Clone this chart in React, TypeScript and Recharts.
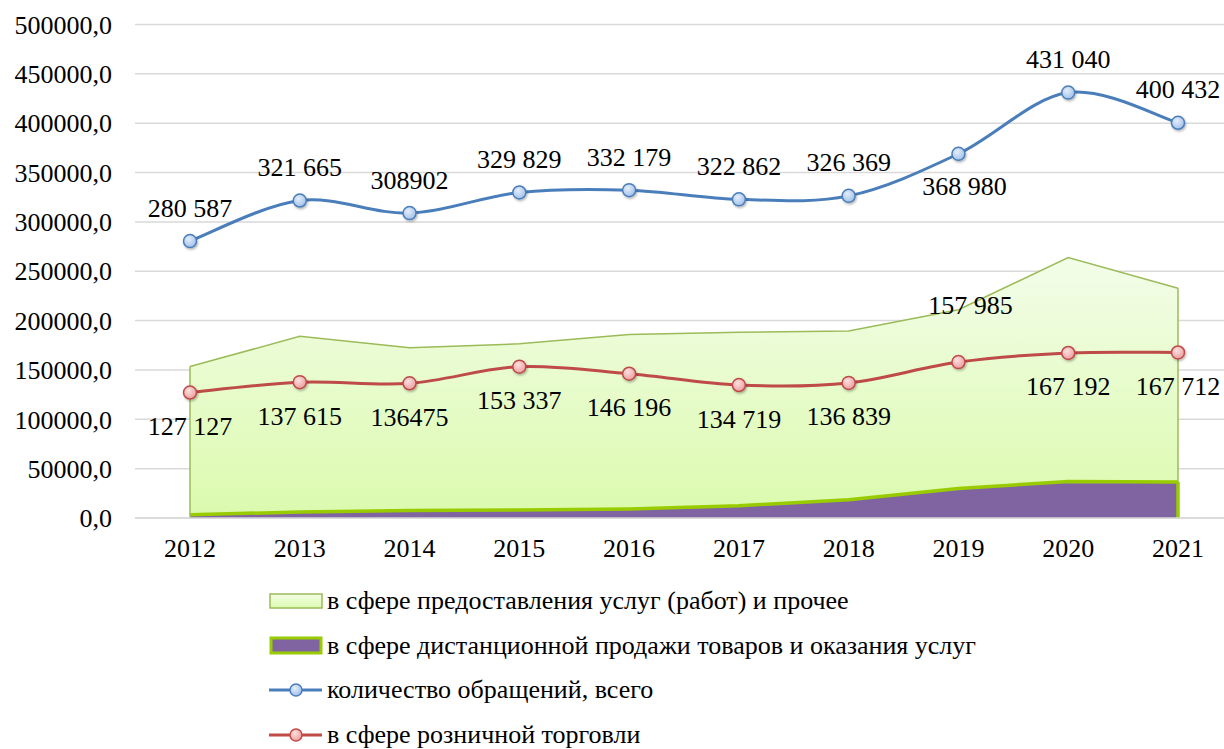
import {
  Area,
  CartesianGrid,
  ComposedChart,
  LabelList,
  Line,
  ReferenceLine,
  XAxis,
  YAxis,
} from "recharts";

const years = ["2012", "2013", "2014", "2015", "2016", "2017", "2018", "2019", "2020", "2021"];
const totalAppeals = [280587, 321665, 308902, 329829, 332179, 322862, 326369, 368980, 431040, 400432];
const retailTrade = [127127, 137615, 136475, 153337, 146196, 134719, 136839, 157985, 167192, 167712];
const servicesOther = [153460, 184050, 172427, 176492, 185983, 188143, 189530, 210995, 263848, 232720];
const distanceSales = [3400, 6000, 7500, 8100, 9100, 12500, 18600, 30000, 37000, 36500];
const totalLabels = ["280 587", "321 665", "308902", "329 829", "332 179", "322 862", "326 369", "368 980", "431 040", "400 432"];
const retailLabels = ["127 127", "137 615", "136475", "153 337", "146 196", "134 719", "136 839", "157 985", "167 192", "167 712"];
const yTicks = [0, 50000, 100000, 150000, 200000, 250000, 300000, 350000, 400000, 450000, 500000];

const legendNames = [
  "в сфере предоставления услуг (работ) и прочее",
  "в сфере дистанционной продажи товаров и оказания услуг",
  "количество обращений, всего",
  "в сфере розничной торговли",
];

const chartData = years.map((year, i) => ({
  year,
  total: totalAppeals[i],
  retail: retailTrade[i],
  services: servicesOther[i],
  distance: distanceSales[i],
}));

const FONT =
  '"Liberation Serif", "Times New Roman", Tinos, "DejaVu Serif", "Noto Serif", FreeSerif, "Nimbus Roman", Times, serif';
const BLUE = "#4a7ebb";
const RED = "#be4b48";

// excel-like smoothing: catmull-rom through every point
function excelSmooth(context: any) {
  let pts: number[][] = [];
  return {
    areaStart() {},
    areaEnd() {},
    lineStart() {
      pts = [];
    },
    point(x: number, y: number) {
      pts.push([+x, +y]);
    },
    lineEnd() {
      const n = pts.length;
      if (!n) return;
      context.moveTo(pts[0][0], pts[0][1]);
      for (let i = 0; i < n - 1; i++) {
        const p0 = pts[i - 1] || pts[i];
        const p1 = pts[i];
        const p2 = pts[i + 1];
        const p3 = pts[i + 2] || pts[i + 1];
        context.bezierCurveTo(
          p1[0] + (p2[0] - p0[0]) / 6,
          p1[1] + (p2[1] - p0[1]) / 6,
          p2[0] - (p3[0] - p1[0]) / 6,
          p2[1] - (p3[1] - p1[1]) / 6,
          p2[0],
          p2[1],
        );
      }
    },
  };
}

function makeDot(fill: string, stroke: string) {
  return (p: any) => (
    <circle
      key={p.index}
      cx={p.cx}
      cy={p.cy}
      r={6.5}
      fill={fill}
      stroke={stroke}
      strokeWidth={1.5}
      filter="url(#softShadow)"
    />
  );
}

// which labels go on the other side of their point
const totalBelow = [7];
const retailAbove = [7];

function makeLabel(texts: string[], defaultDy: number, flipped: number[], flippedDy: number, flippedDx = 0) {
  return (p: any) => {
    const flip = flipped.includes(p.index);
    return (
      <text
        key={p.index}
        x={p.x + (flip ? flippedDx : 0)}
        y={p.y + (flip ? flippedDy : defaultDy)}
        textAnchor="middle"
        dominantBaseline="central"
        fontSize={26}
        fontFamily={FONT}
        fill="#000"
      >
        {texts[p.index]}
      </text>
    );
  };
}

function LegendBox() {
  const icons = [
    <svg width={56} height={20} key="a">
      <rect x={1} y={3} width={52} height={14} fill="url(#legendGreen)" stroke="#9bbb59" strokeWidth={1.5} />
    </svg>,
    <svg width={56} height={20} key="b">
      <rect x={2} y={2} width={50} height={15} fill="#8064a2" stroke="#99cc00" strokeWidth={3} />
    </svg>,
    <svg width={56} height={20} key="c">
      <line x1={0} y1={10} x2={53} y2={10} stroke={BLUE} strokeWidth={3} />
      <circle cx={27} cy={10} r={6} fill="url(#blueDot)" stroke={BLUE} strokeWidth={1.5} />
    </svg>,
    <svg width={56} height={20} key="d">
      <line x1={0} y1={10} x2={53} y2={10} stroke={RED} strokeWidth={3} />
      <circle cx={27} cy={10} r={6} fill="url(#redDot)" stroke={RED} strokeWidth={1.5} />
    </svg>,
  ];
  return (
    <div style={{ position: "absolute", left: 269, top: 579, fontFamily: FONT, fontSize: 26, color: "#000" }}>
      {legendNames.map((name, i) => (
        <div key={name} style={{ display: "flex", alignItems: "center", height: 44.6 }}>
          {icons[i]}
          <span style={{ marginLeft: 2, whiteSpace: "nowrap" }}>{name}</span>
        </div>
      ))}
    </div>
  );
}

export default function App() {
  return (
    <div style={{ position: "absolute", left: 0, top: 0, width: 1224, height: 749, overflow: "hidden", background: "#fff" }}>
      <svg width={0} height={0} style={{ position: "absolute" }}>
        <defs>
          <linearGradient id="legendGreen" x1="0" y1="0" x2="0" y2="1">
            <stop offset="0%" stopColor="#f2fde6" />
            <stop offset="100%" stopColor="#dcfab0" />
          </linearGradient>
          <radialGradient id="blueDot" cx="40%" cy="35%" r="70%">
            <stop offset="0%" stopColor="#e4eefb" />
            <stop offset="100%" stopColor="#9ebde8" />
          </radialGradient>
          <radialGradient id="redDot" cx="40%" cy="35%" r="70%">
            <stop offset="0%" stopColor="#fde0e0" />
            <stop offset="100%" stopColor="#eb9a9a" />
          </radialGradient>
          <filter id="softShadow" x="-50%" y="-50%" width="200%" height="200%">
            <feDropShadow dx="1" dy="1.5" stdDeviation="1.2" floodColor="#000" floodOpacity="0.3" />
          </filter>
        </defs>
      </svg>
      <ComposedChart
        width={1240}
        height={749}
        data={chartData}
        margin={{ top: 24.5, right: 7, bottom: 201, left: 0 }}
      >
        <defs>
          <linearGradient id="greenFill" x1="0" y1="0" x2="0" y2="1">
            <stop offset="0%" stopColor="#f3fde9" />
            <stop offset="100%" stopColor="#dbfaad" />
          </linearGradient>
        </defs>
        <CartesianGrid stroke="#d9d9d9" strokeWidth={1.5} vertical={false} />
        <XAxis
          dataKey="year"
          scale="point"
          padding={{ left: 55, right: 55 }}
          height={30}
          tickSize={0}
          tickMargin={21}
          axisLine={{ stroke: "#d9d9d9", strokeWidth: 1.5 }}
          tick={{ fill: "#000", fontSize: 26, fontFamily: FONT }}
        />
        <YAxis
          width={135}
          domain={[0, 500000]}
          ticks={yTicks}
          interval={0}
          axisLine={false}
          tickSize={0}
          tickMargin={23}
          tickFormatter={(v: number) => v.toFixed(1).replace(".", ",")}
          tick={{ fill: "#000", fontSize: 26, fontFamily: FONT }}
        />
        <Area
          type="linear"
          dataKey="services"
          name={legendNames[0]}
          stroke="#9bbb59"
          strokeWidth={1.5}
          fill="url(#greenFill)"
          fillOpacity={1}
          isAnimationActive={false}
        />
        <Area
          type="linear"
          dataKey="distance"
          name={legendNames[1]}
          stroke="#99cc00"
          strokeWidth={3.5}
          fill="#8064a2"
          fillOpacity={1}
          isAnimationActive={false}
        />
        <ReferenceLine
          segment={[{ x: years[0], y: 0 }, { x: years[0], y: servicesOther[0] }]}
          stroke="#9bbb59"
          strokeWidth={1.5}
        />
        <ReferenceLine
          segment={[{ x: years[9], y: 0 }, { x: years[9], y: servicesOther[9] }]}
          stroke="#9bbb59"
          strokeWidth={1.5}
        />
        <ReferenceLine
          segment={[{ x: years[9], y: 0 }, { x: years[9], y: distanceSales[9] }]}
          stroke="#99cc00"
          strokeWidth={3.5}
        />
        <Line
          type={excelSmooth as any}
          dataKey="total"
          name={legendNames[2]}
          stroke={BLUE}
          strokeWidth={3}
          dot={makeDot("url(#blueDot)", BLUE)}
          isAnimationActive={false}
        >
          <LabelList dataKey="total" content={makeLabel(totalLabels, -33, totalBelow, 33, 6)} />
        </Line>
        <Line
          type={excelSmooth as any}
          dataKey="retail"
          name={legendNames[3]}
          stroke={RED}
          strokeWidth={3}
          dot={makeDot("url(#redDot)", RED)}
          isAnimationActive={false}
        >
          <LabelList dataKey="retail" content={makeLabel(retailLabels, 34, retailAbove, -57, 12)} />
        </Line>
      </ComposedChart>
      <LegendBox />
    </div>
  );
}
